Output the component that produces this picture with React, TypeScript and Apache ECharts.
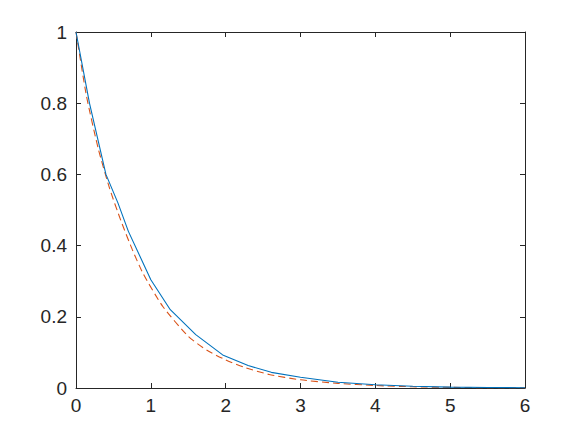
import React, { useEffect, useRef } from "react";
import * as echarts from "echarts";

const xTicks = [0, 1, 2, 3, 4, 5, 6];
const yTicks = [0, 0.2, 0.4, 0.6, 0.8, 1];

const blueX = [0, 0.18, 0.4, 0.56, 0.7, 1.0, 1.26, 1.6, 1.96, 2.3, 2.61, 3.0, 3.5, 4, 4.5, 5, 5.5, 6];
const blueY = [1, 0.8, 0.6, 0.52, 0.44, 0.304, 0.22, 0.15, 0.093, 0.063, 0.044, 0.03, 0.016, 0.009, 0.005, 0.0025, 0.0013, 0.0007];

const redX = [0, 0.14, 0.3, 0.45, 0.6, 0.75, 0.9, 1.16, 1.5, 1.75, 2, 2.25, 2.58, 3, 3.5, 4, 4.5, 5, 5.5, 6];
const redY = [1, 0.82, 0.67, 0.56, 0.47, 0.39, 0.32, 0.229, 0.145, 0.106, 0.079, 0.058, 0.038, 0.023, 0.013, 0.007, 0.0035, 0.0018, 0.0009, 0.0005];

const axisColor = "#262626";
const font = "'Liberation Sans', Arial, Helvetica, sans-serif";

function makeAxis(kind: "x" | "y", position: string, labels: boolean) {
  const ticks = kind === "x" ? xTicks : yTicks;
  return {
    type: "value",
    min: ticks[0],
    max: ticks[ticks.length - 1],
    interval: ticks[1] - ticks[0],
    position,
    axisLine: { show: true, onZero: false, lineStyle: { color: axisColor, width: 1 } },
    axisTick: { show: true, inside: true, length: 5, lineStyle: { color: axisColor, width: 1 } },
    splitLine: { show: false },
    axisLabel: labels
      ? { show: true, color: axisColor, fontSize: 19, fontFamily: font, margin: kind === "x" ? 8 : 9 }
      : { show: false },
  };
}

export default function App() {
  const ref = useRef<HTMLDivElement>(null);
  useEffect(() => {
    if (!ref.current) return;
    const chart = echarts.init(ref.current, undefined, { renderer: "svg" });
    chart.setOption({
      animation: false,
      backgroundColor: "#ffffff",
      grid: { left: 76, right: 56, top: 32, bottom: 48, containLabel: false },
      xAxis: [makeAxis("x", "bottom", true), makeAxis("x", "top", false)],
      yAxis: [makeAxis("y", "left", true), makeAxis("y", "right", false)],
      series: [
        {
          type: "line",
          data: blueX.map((x, i) => [x, blueY[i]]),
          showSymbol: false,
          lineStyle: { color: "#0072BD", width: 1.1 },
          z: 3,
        },
        {
          type: "line",
          data: redX.map((x, i) => [x, redY[i]]),
          showSymbol: false,
          smooth: 0.2,
          lineStyle: { color: "#D95319", width: 1.1, type: [7, 4] },
          z: 2,
        },
      ],
    });
    return () => chart.dispose();
  }, []);
  return (
    <div
      ref={ref}
      style={{ position: "fixed", left: 0, top: 0, width: 581, height: 436, background: "#fff" }}
    />
  );
}
